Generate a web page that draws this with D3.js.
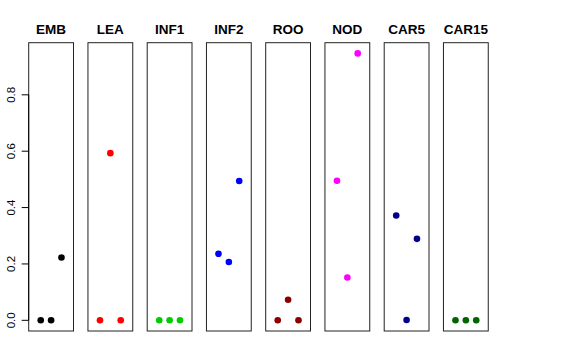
<!DOCTYPE html>
<html>
<head>
<meta charset="utf-8">
<script src="https://cdn.jsdelivr.net/npm/d3@7"></script>
<style>
  body { margin: 0; background: #fff; }
  text { font-family: "Liberation Sans", Arial, sans-serif; }
</style>
</head>
<body>
<div id="chart"></div>
<script>
// panel names and colours
const groups = ["EMB", "LEA", "INF1", "INF2", "ROO", "NOD", "CAR5", "CAR15"];
const colors = ["#000000", "#FF0000", "#00CD00", "#0000FF", "#8B0000", "#FF00FF", "#00008B", "#006400"];
// three values per panel, in order 1,2,3
const emb = [0, 0, 0.223];
const lea = [0, 0.593, 0];
const inf1 = [0, 0, 0];
const inf2 = [0.236, 0.207, 0.494];
const roo = [0, 0.073, 0];
const nod = [0.495, 0.152, 0.947];
const car5 = [0.372, 0.001, 0.289];
const car15 = [0, 0, 0];
const values = [emb, lea, inf1, inf2, roo, nod, car5, car15];
const yTicks = [0, 0.2, 0.4, 0.6, 0.8];

const width = 576, height = 360;
const margin = {top: 42.7, bottom: 29, left: 28.7};
const panelW = 44.8, panelStep = 59.25;

const svg = d3.select("#chart").append("svg")
    .attr("width", width)
    .attr("height", height);

// R style 4% padding on the y range
const yMax = d3.max(values.flat()), yMin = 0;
const pad = (yMax - yMin) * 0.04;
const y = d3.scaleLinear()
    .domain([yMin - pad, yMax + pad])
    .range([height - margin.bottom, margin.top]);

const x = d3.scaleLinear()
    .domain([-0.16, 4.16])
    .range([0, panelW]);

groups.forEach((name, i) => {
    const g = svg.append("g")
        .attr("transform", "translate(" + (margin.left + i * panelStep) + ",0)");

    g.append("rect")
        .attr("x", 0)
        .attr("y", margin.top)
        .attr("width", panelW)
        .attr("height", height - margin.bottom - margin.top)
        .attr("fill", "none")
        .attr("stroke", "#222")
        .attr("stroke-width", 1);

    g.append("text")
        .attr("x", panelW / 2)
        .attr("y", 34)
        .attr("text-anchor", "middle")
        .attr("font-size", 13.5)
        .attr("font-weight", "bold")
        .text(name);

    g.selectAll("circle")
        .data(values[i])
        .enter()
        .append("circle")
            .attr("cx", (d, j) => x(j + 1))
            .attr("cy", d => y(d))
            .attr("r", 3.3)
            .style("fill", colors[i]);

    if (i == 0) {
        const axis = g.append("g")
            .call(d3.axisLeft(y)
                .tickValues(yTicks)
                .tickFormat(d3.format(".1f"))
                .tickSize(7)
                .tickSizeOuter(0));
        axis.select(".domain")
            .attr("d", "M0," + y(0) + "V" + y(0.8));
        axis.selectAll("line").attr("stroke", "#000");
        axis.selectAll("text")
            .attr("font-size", 11.5)
            .attr("fill", "#000")
            .attr("text-anchor", "middle")
            .attr("transform", "rotate(-90)")
            .attr("x", d => -y(d))
            .attr("y", -17)
            .attr("dy", "0.32em");
        axis.selectAll(".tick")
            .attr("transform", "translate(0,0)");
        axis.selectAll(".tick line")
            .attr("y1", d => y(d))
            .attr("y2", d => y(d));
    }
});
</script>
</body>
</html>
